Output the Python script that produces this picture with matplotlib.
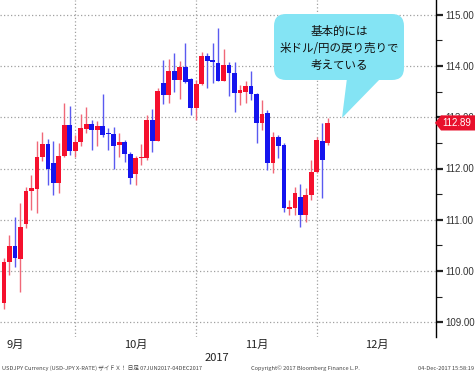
import matplotlib
matplotlib.use("Agg")
import matplotlib.pyplot as plt
import numpy as np
import pandas as pd
from matplotlib.patches import FancyBboxPatch, Polygon
from matplotlib.transforms import Affine2D, blended_transform_factory
from matplotlib.ticker import MultipleLocator, FixedLocator

plt.rcParams['font.family'] = ['Noto Sans CJK JP', 'DejaVu Sans']

# ---- data (USD/JPY daily candles) ----
dates = pd.bdate_range("2017-09-12", "2017-12-04")
opens = [109.38, 110.17, 110.49, 110.23, 110.92, 111.57, 111.60, 112.23, 112.48, 112.10,
         111.72, 112.25, 112.85, 112.34, 112.51, 112.77, 112.87, 112.75, 112.83, 112.70,
         112.68, 112.45, 112.51, 112.29, 111.89, 112.20, 112.20, 112.94, 112.54, 113.67,
         113.44, 113.91, 113.73, 113.99, 113.74, 113.18, 113.65, 114.20, 114.11, 114.06,
         113.71, 114.02, 113.87, 113.47, 113.49, 113.62, 113.46, 112.88, 113.08, 112.11,
         112.62, 112.46, 111.21, 111.22, 111.45, 111.09, 111.48, 111.94, 112.54, 112.49]
highs = [110.25, 110.70, 111.05, 111.33, 111.64, 111.87, 112.53, 112.72, 112.57, 112.53,
         112.49, 113.28, 113.22, 112.66, 113.07, 113.20, 112.95, 112.92, 113.45, 112.80,
         112.82, 112.69, 112.55, 112.33, 112.25, 112.48, 113.05, 113.16, 113.57, 114.12,
         114.13, 114.25, 114.09, 114.46, 113.76, 113.73, 114.28, 114.25, 114.45, 114.74,
         114.33, 114.07, 114.07, 113.63, 113.71, 113.91, 113.47, 113.33, 113.14, 112.72,
         112.66, 112.49, 111.39, 111.63, 111.70, 111.62, 112.17, 112.62, 112.88, 112.98]
lows = [109.26, 109.92, 110.08, 109.58, 110.84, 111.19, 111.13, 112.15, 111.68, 111.48,
        111.52, 112.22, 112.27, 112.23, 112.43, 112.69, 112.36, 112.43, 112.62, 112.36,
        112.00, 112.23, 112.13, 111.69, 111.67, 112.06, 112.17, 112.32, 112.53, 113.26,
        113.28, 113.50, 113.36, 113.67, 113.05, 112.95, 113.63, 113.57, 113.67, 113.70,
        113.70, 113.42, 113.11, 113.24, 113.28, 113.34, 112.49, 112.75, 111.97, 111.91,
        112.20, 111.15, 111.09, 111.09, 110.85, 110.96, 111.39, 111.91, 111.42, 112.46]
closes = [110.18, 110.49, 110.25, 110.85, 111.57, 111.62, 112.23, 112.48, 112.00, 111.72,
          112.25, 112.85, 112.35, 112.51, 112.79, 112.87, 112.75, 112.83, 112.66, 112.68,
          112.44, 112.51, 112.29, 111.82, 112.20, 112.22, 112.95, 112.54, 113.52, 113.44,
          113.91, 113.73, 113.99, 113.69, 113.18, 113.65, 114.19, 114.09, 114.07, 113.71,
          114.02, 113.87, 113.48, 113.54, 113.62, 113.46, 112.88, 113.06, 112.10, 112.62,
          112.44, 111.22, 111.24, 111.52, 111.09, 111.48, 111.94, 112.55, 112.17, 112.89]
month_labels = ["9月", "10月", "11月", "12月"]
year_label = "2017"
price_ticks = [109, 110, 111, 112, 113, 114, 115]
callout_lines = ["基本的には", "米ドル/円の戻り売りで", "考えている"]
footer_left = "USDJPY Currency (USD-JPY X-RATE) ザイＦＸ！ 日足 07JUN2017-04DEC2017"
footer_mid = "Copyright© 2017 Bloomberg Finance L.P."
footer_right = "04-Dec-2017 15:58:19"

W, H = 477, 376
fig = plt.figure(figsize=(W / 100, H / 100), dpi=100)
fig.patch.set_facecolor('white')
ax = fig.add_axes([0, 1 - 337 / H, 436 / W, 337 / H])
ax.set_facecolor('white')

RED = '#F5102D'
BLUE = '#1414EE'
RED_W = '#F06878'
BLUE_W = '#5A5AF0'

o = np.array(opens); h = np.array(highs); l = np.array(lows); c = np.array(closes)
idx = np.arange(len(dates))
up = c >= o
body_bottom = np.minimum(o, c)
body_h = np.maximum(np.abs(c - o), 0.02)

ax.vlines(idx[up], l[up], h[up], color=RED_W, lw=1.0, zorder=3)
ax.vlines(idx[~up], l[~up], h[~up], color=BLUE_W, lw=1.0, zorder=3)
ax.bar(idx[up], body_h[up], bottom=body_bottom[up], width=0.88, color=RED, zorder=4, linewidth=0)
ax.bar(idx[~up], body_h[~up], bottom=body_bottom[~up], width=0.88, color=BLUE, zorder=4, linewidth=0)

# month boundaries: last trading day of each month
months = dates.to_period('M')
grid_x = [i for i in range(len(dates) - 1) if months[i] != months[i + 1]]
grid_x = grid_x[:3]
for gx in grid_x:
    ax.axvline(gx, color='#A0A0A0', lw=0.9, ls=(0, (1, 1.8)), zorder=1)
for py in price_ticks:
    ax.axhline(py, color='#A0A0A0', lw=0.9, ls=(0, (1, 1.8)), zorder=1)

ax.set_xlim(-0.73, 78.7)
ax.set_ylim(108.71, 115.29)

for s in ['top', 'left', 'bottom']:
    ax.spines[s].set_visible(False)
ax.spines['right'].set_color('black')
ax.spines['right'].set_linewidth(1.0)

ax.set_xticks([])
ax.yaxis.tick_right()
ax.yaxis.set_major_locator(FixedLocator(price_ticks))
ax.yaxis.set_minor_locator(MultipleLocator(0.5))
ax.set_yticklabels([f"{v:.2f}" for v in price_ticks])
ax.tick_params(axis='y', which='major', length=5, width=1.6, pad=2,
               labelsize=7, colors='#222222', labelcolor='#333333')
ax.tick_params(axis='y', which='minor', length=4, width=0.8, colors='#222222')
for t in ax.get_yticklabels():
    t.set_fontfamily(['Liberation Sans', 'DejaVu Sans'])

# month labels centred within months (~22 trading days per month)
label_pos = [b - 11 for b in grid_x] + [grid_x[-1] + 11]
xtrans = blended_transform_factory(ax.transData, fig.transFigure)
for lab, xp in zip(month_labels, label_pos):
    fig.text(xp, 1 - 345 / H, lab, transform=xtrans, ha='center', va='center',
             fontsize=8, color='#222222')

px = Affine2D().scale(1 / W, -1 / H).translate(0, 1) + fig.transFigure

fig.text(217, 358, year_label, transform=px, ha='center', va='center', fontsize=8, color='#222222')
fig.text(2, 368, footer_left, transform=px, ha='left', va='center', fontsize=4.1, color='#444444')
fig.text(251, 368, footer_mid, transform=px, ha='left', va='center', fontsize=4.1, color='#444444')
fig.text(474, 368, footer_right, transform=px, ha='right', va='center', fontsize=4.1, color='#444444')

# callout
CALL = '#84E4F4'
box = FancyBboxPatch((274, 14), 130, 66, boxstyle='round,pad=0,rounding_size=12',
                     transform=px, facecolor=CALL, edgecolor='none', zorder=5)
fig.add_artist(box)
tail = Polygon([(347, 78), (381, 78), (342, 118)], closed=True, transform=px,
               facecolor=CALL, edgecolor='none', zorder=5)
fig.add_artist(tail)
for k, line in enumerate(callout_lines):
    fig.text(339, 31 + 17 * k, line, transform=px, ha='center', va='center',
             fontsize=8.3, color='#111111', zorder=6)

# last price flag (covers the 113.00 label as in the original)
last = closes[-1]
ft = blended_transform_factory(px, ax.transData)
flag = Polygon([(435, last), (441, last + 0.148), (475, last + 0.148),
                (475, last - 0.148), (441, last - 0.148)], closed=True,
               transform=ft, facecolor='#E8102C', edgecolor='none', zorder=7)
fig.add_artist(flag)
fig.text(457, last, f"{last:.2f}", transform=ft,
         ha='center', va='center', fontsize=7, color='white', zorder=8,
         family=['Liberation Sans', 'DejaVu Sans'])

fig.savefig("out.png", dpi=100, facecolor='white')
